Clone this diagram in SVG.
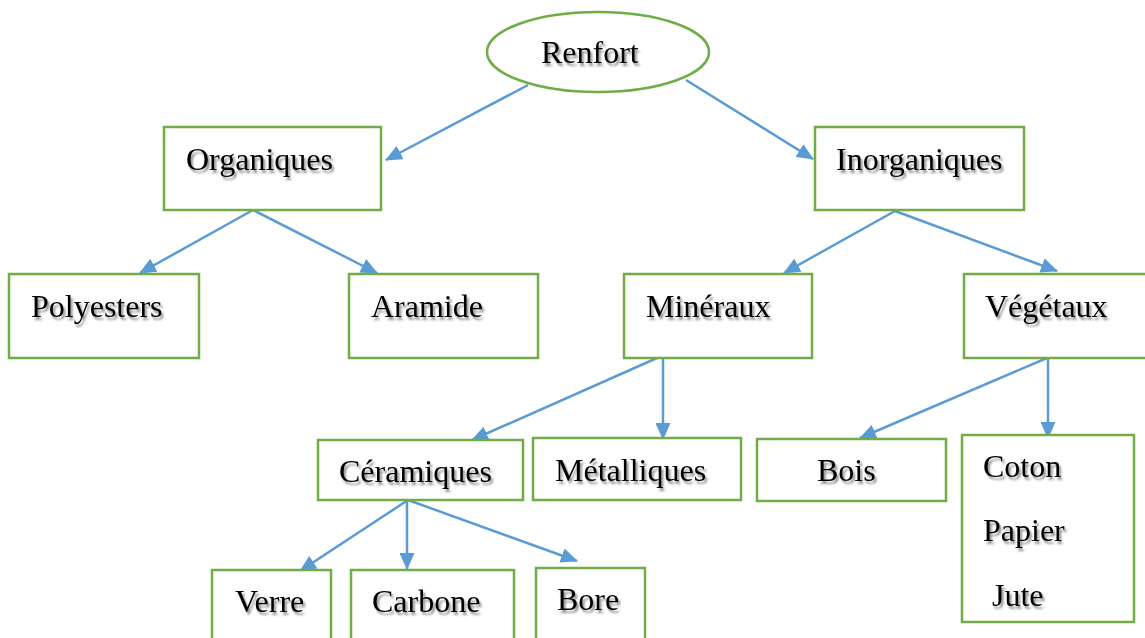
<svg xmlns="http://www.w3.org/2000/svg" width="1145" height="638" viewBox="0 0 1145 638">
<defs>
<style>
.box{fill:#fff;stroke:#70AD47;stroke-width:2.5}
.lbl{font-family:"Liberation Serif","Times New Roman",serif;font-size:32px;fill:#000;filter:url(#sh)}
.con{stroke:#5B9BD5;stroke-width:2.5;fill:none;marker-end:url(#ah)}
</style>
<marker id="ah" markerUnits="userSpaceOnUse" markerWidth="17" markerHeight="15" refX="16" refY="7.5" orient="auto">
<path d="M0,0 L17,7.5 L0,15 Z" fill="#5B9BD5"/>
</marker>
<filter id="sh" x="-10%" y="-20%" width="130%" height="150%">
<feGaussianBlur in="SourceAlpha" stdDeviation="1.3"/>
<feOffset dx="2" dy="2.5" result="b"/>
<feComponentTransfer><feFuncA type="linear" slope="0.45"/></feComponentTransfer>
<feMerge><feMergeNode/><feMergeNode in="SourceGraphic"/></feMerge>
</filter>
</defs>
<rect width="1145" height="638" fill="#fff"/>
<g id="connectors">
<line class="con" x1="528" y1="85" x2="386" y2="160"/>
<line class="con" x1="686" y1="80" x2="813" y2="159"/>
<line class="con" x1="253" y1="210" x2="140" y2="273"/>
<line class="con" x1="253" y1="210" x2="377" y2="273"/>
<line class="con" x1="895" y1="211" x2="784" y2="273"/>
<line class="con" x1="895" y1="211" x2="1057" y2="271"/>
<line class="con" x1="657" y1="358" x2="472" y2="440"/>
<line class="con" x1="663" y1="358" x2="663" y2="439"/>
<line class="con" x1="1047" y1="358" x2="860" y2="438"/>
<line class="con" x1="1048" y1="358" x2="1048" y2="438"/>
<line class="con" x1="408" y1="500" x2="300" y2="571"/>
<line class="con" x1="407" y1="500" x2="407" y2="569"/>
<line class="con" x1="408" y1="500" x2="577" y2="561"/>
</g>
<g id="renfort"><ellipse class="box" cx="598" cy="52" rx="111" ry="40"/><text class="lbl" x="541" y="63">Renfort</text></g>
<g id="organiques"><rect class="box" x="164" y="127" width="217" height="83"/><text class="lbl" x="186" y="170">Organiques</text></g>
<g id="inorganiques"><rect class="box" x="815" y="127" width="209" height="83"/><text class="lbl" x="836" y="170">Inorganiques</text></g>
<g id="polyesters"><rect class="box" x="9" y="274" width="190" height="84"/><text class="lbl" x="31" y="317">Polyesters</text></g>
<g id="aramide"><rect class="box" x="349" y="274" width="189" height="84"/><text class="lbl" x="371" y="317">Aramide</text></g>
<g id="mineraux"><rect class="box" x="624" y="274" width="188" height="84"/><text class="lbl" x="646" y="317">Minéraux</text></g>
<g id="vegetaux"><rect class="box" x="964" y="274" width="183" height="84"/><text class="lbl" x="985" y="317">Végétaux</text></g>
<g id="ceramiques"><rect class="box" x="318" y="440" width="205" height="60"/><text class="lbl" x="339" y="482">Céramiques</text></g>
<g id="metalliques"><rect class="box" x="533" y="438" width="208" height="62"/><text class="lbl" x="555" y="481">Métalliques</text></g>
<g id="bois"><rect class="box" x="757" y="439" width="189" height="62"/><text class="lbl" x="817" y="481">Bois</text></g>
<g id="vegetaux-list"><rect class="box" x="962" y="435" width="172" height="187"/><text class="lbl" x="983" y="477">Coton</text><text class="lbl" x="983" y="541">Papier</text><text class="lbl" x="992" y="606">Jute</text></g>
<g id="verre"><rect class="box" x="212" y="570" width="119" height="80"/><text class="lbl" x="235" y="612">Verre</text></g>
<g id="carbone"><rect class="box" x="351" y="570" width="163" height="80"/><text class="lbl" x="372" y="612">Carbone</text></g>
<g id="bore"><rect class="box" x="536" y="568" width="109" height="82"/><text class="lbl" x="557" y="610">Bore</text></g>
</svg>
